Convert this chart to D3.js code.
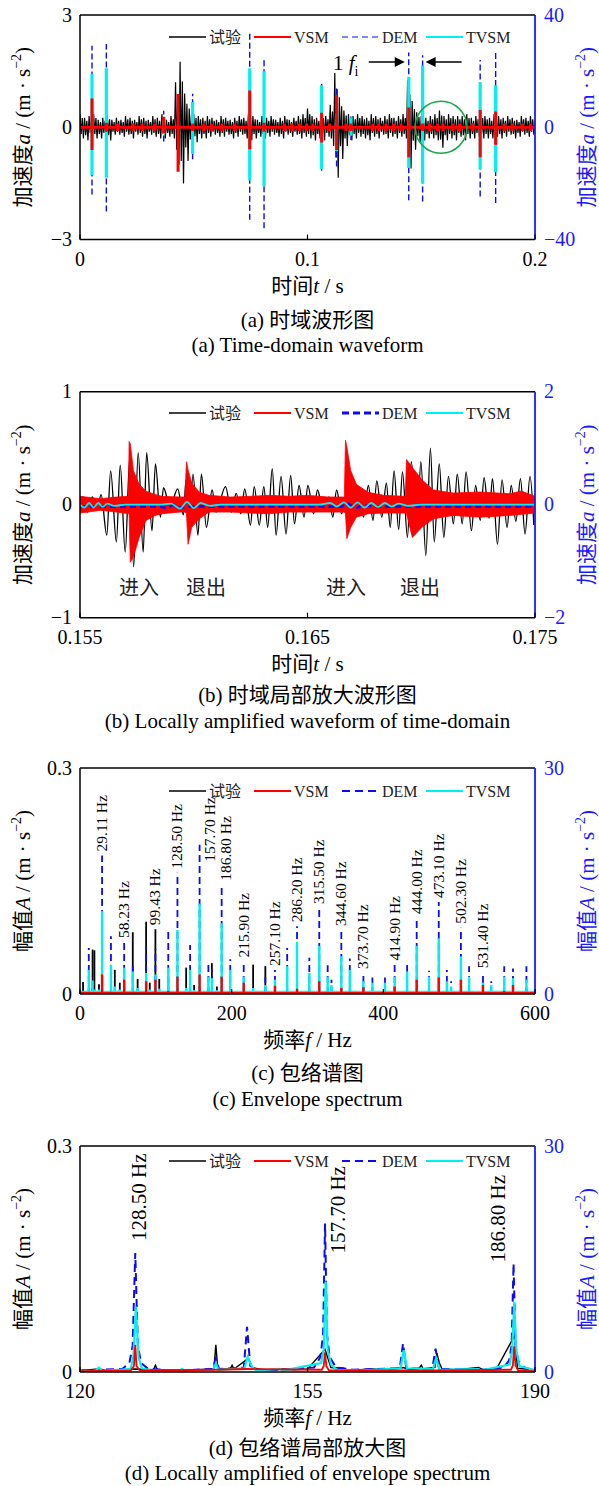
<!DOCTYPE html>
<html><head><meta charset="utf-8">
<script src="https://cdn.jsdelivr.net/npm/d3@7"></script>
<style>
body{margin:0;background:#fff;}
svg{display:block;}
text{font-family:"Liberation Serif","Times New Roman","Noto Sans CJK SC",serif;}
</style></head><body>
<svg id="c" width="599" height="1486"></svg>
<script>
// ================= DATA =================
// ---- Panel (a): time-domain waveform ----
const aXTicks = [0, 0.1, 0.2];
const aLTicks = [-3, 0, 3];
const aRTicks = [-40, 0, 40];
const aExpStep = 0.002; // sampling of the envelope
const aExpHi = [0.35,0.25,0.3,0.35,0.2,0.25,0.3,0.2,0.25,0.2,0.3,0.25,0.2,0.3,0.25,0.2,0.3,0.25,0.35,0.2,
  0.3,1.2,1.75,0.9,0.5,0.35,0.3,0.25,0.3,0.25,0.2,0.3,0.25,0.2,0.25,0.3,0.25,0.35,0.3,0.2,
  0.3,0.25,0.3,0.2,0.25,0.3,0.2,0.25,0.3,0.35,0.5,0.3,0.25,0.35,0.3,0.6,1.45,0.8,0.45,0.35,
  0.3,0.35,0.3,0.25,0.35,0.3,0.25,0.3,0.35,0.25,0.3,0.35,1.25,0.7,0.4,0.3,0.25,0.3,0.35,0.45,
  0.3,0.35,0.3,0.3,0.3,0.35,0.25,0.3,0.35,0.3,0.25,0.35,0.3,0.25,0.3,0.25,0.2,0.3,0.25,0.3,0.2];
const aExpLo = [-0.3,-0.35,-0.25,-0.3,-0.3,-0.25,-0.35,-0.2,-0.2,-0.25,-0.2,-0.3,-0.2,-0.25,-0.3,-0.2,-0.25,-0.3,-0.3,-0.25,
  -0.3,-1.0,-1.5,-0.9,-0.55,-0.4,-0.3,-0.3,-0.25,-0.2,-0.25,-0.25,-0.2,-0.3,-0.25,-0.2,-0.3,-0.35,-0.3,-0.25,
  -0.3,-0.25,-0.2,-0.25,-0.3,-0.2,-0.25,-0.2,-0.3,-0.25,-0.3,-0.35,-0.3,-0.35,-0.25,-0.5,-1.35,-0.85,-0.5,-0.35,
  -0.3,-0.25,-0.3,-0.35,-0.25,-0.3,-0.2,-0.3,-0.25,-0.3,-0.25,-0.3,-1.1,-0.6,-0.4,-0.35,-0.3,-0.3,-0.35,-0.55,
  -0.35,-0.3,-0.35,-0.25,-0.35,-0.3,-0.3,-0.25,-0.3,-0.3,-0.3,-0.25,-0.3,-0.25,-0.2,-0.3,-0.25,-0.2,-0.25,-0.2,-0.2];
const aImpT   = [0.00527,0.01158,0.0368,0.0431,0.0495,0.0746,0.0809,0.1062,0.1128,0.1191,0.1445,0.1506,0.1759,0.1827];
const aDemHi  = [29, 29.7, 5.9, 1.5, 11.9, 33.5, 24, 16, 14, 3.8, 26.6, 25.7, 24, 27];
const aDemLo  = [-24, -30, -5.1, -1.5, -11.4, -33, -36, -15.5, -14, -4.5, -26, -26.5, -24.7, -27];
const aTvsmHi = [19, 21, 2.8, 0.5, 9, 21, 20, 15, 5, 3.5, 18, 22, 16, 15];
const aTvsmLo = [-17, -18, -2.5, -0.5, -9.5, -19, -21, -15, -8.5, -3, -14.5, -20, -15, -16];
const aVsmT  = [0.00527,0.01158,0.0164,0.0233,0.0273,0.0328,0.0368,0.0431,0.0495,0.0545,0.058,0.0624,0.068,0.0746,0.0809,
  0.0898,0.0932,0.0964,0.0996,0.1023,0.1062,0.1096,0.1128,0.1169,0.1191,0.1287,0.1313,0.1345,0.1379,0.1411,0.1445,0.1506,
  0.1536,0.1572,0.1595,0.1639,0.1668,0.1726,0.1759,0.1827,0.1865,0.190,0.1945,0.198];
const aVsmHi = [0.77,0.12,0.1,0.1,0.1,0.1,0.28,0.89,0.1,0.1,0.1,0.1,0.1,0.98,0.12,
  0.1,0.1,0.1,0.1,0.1,0.39,0.1,0.86,0.1,0.1,0.1,0.1,0.1,0.1,0.1,0.53,0.1,
  0.1,0.1,0.1,0.1,0.1,0.1,0.46,0.42,0.1,0.1,0.1,0.1];
const aVsmLo = [-0.61,-0.12,-0.1,-0.1,-0.1,-0.1,-0.16,-1.19,-0.1,-0.1,-0.1,-0.1,-0.1,-0.59,-0.12,
  -0.1,-0.1,-0.1,-0.1,-0.1,-0.41,-0.1,-0.61,-0.1,-0.1,-0.1,-0.1,-0.1,-0.1,-0.1,-0.8,-0.1,
  -0.1,-0.1,-0.1,-0.1,-0.1,-0.1,-0.8,-0.47,-0.1,-0.1,-0.1,-0.1];
const aCircleT = 0.1587;

// ---- Panel (b): locally amplified waveform ----
const bXTicks = [0.155, 0.165, 0.175];
const bLTicks = [-1, 0, 1];
const bRTicks = [-2, 0, 2];
const bExpT = [0.155,0.155135,0.155337,0.155539,0.155758,0.155926,0.156178,0.156347,0.156599,0.156768,0.156987,0.157189,0.157357,
  0.157559,0.157778,0.157929,0.158165,0.158316,0.158535,0.158670,0.158956,0.159293,0.159545,0.159663,0.159798,0.159966,
  0.160185,0.160337,0.160556,0.160808,0.160976,0.161397,0.161650,0.161869,0.162071,0.162239,0.162492,0.162660,0.162879,
  0.163081,0.163249,0.163451,0.163620,0.163838,0.164057,0.164259,0.164428,0.164630,0.164848,0.165017,0.165269,0.165438,
  0.165690,0.165943,0.166111,0.166279,0.166498,0.166700,0.166953,0.167290,0.167458,0.167677,0.167879,0.168047,0.168266,
  0.168468,0.168636,0.168805,0.169007,0.169175,0.169394,0.169562,0.169815,0.169983,0.170202,0.170404,0.170572,0.170791,
  0.170993,0.171195,0.171414,0.171582,0.171801,0.171970,0.172205,0.172391,0.172593,0.172761,0.172980,0.173131,0.173350,
  0.173552,0.173771,0.173956,0.174158,0.174360,0.174562,0.174781,0.174949];
const bExpV = [0,0.07,-0.065,0.07,-0.05,0.09,-0.27,0.30,-0.33,0.35,-0.42,0.42,-0.55,
  0.46,-0.42,0.46,-0.23,0.36,-0.11,0.15,-0.02,0.14,-0.09,0.22,-0.29,0.27,
  -0.27,0.27,-0.2,0.13,-0.065,0.16,-0.065,0.1,-0.08,0.14,-0.18,0.16,-0.18,
  0.16,-0.2,0.32,-0.27,0.25,-0.26,0.26,-0.17,0.17,-0.11,0.17,-0.08,0.13,
  -0.05,0.07,-0.11,0.13,-0.08,0.07,-0.11,0.1,-0.11,0.17,-0.14,0.21,-0.11,
  0.19,-0.2,0.3,-0.22,0.29,-0.29,0.38,-0.23,0.38,-0.45,0.5,-0.33,0.36,
  -0.29,0.25,-0.17,0.27,-0.17,0.29,-0.23,0.17,-0.14,0.24,-0.12,0.23,-0.35,
  0.22,-0.2,0.17,-0.15,0.23,-0.26,0.25,-0.18];
const bVsmT  = [0.155,0.1559,0.1566,0.15713,0.15716,0.15721,0.15735,0.1576,0.1579,0.1583,0.1586,0.1594,0.15961,0.15968,0.15975,
  0.15991,0.16025,0.16067,0.1616,0.1625,0.1633,0.1642,0.1650,0.1659,0.16662,0.16667,0.16673,0.16690,0.16715,0.16766,0.16835,
  0.16926,0.16930,0.16935,0.16961,0.17003,0.17054,0.1714,0.1726,0.1739,0.1744,0.1750];
const bVsmHi = [0.074,0.053,0.068,0.074,0.56,0.54,0.30,0.18,0.12,0.09,0.074,0.068,0.068,0.38,0.31,
  0.19,0.11,0.083,0.068,0.074,0.083,0.074,0.083,0.068,0.068,0.57,0.51,0.30,0.18,0.11,0.083,
  0.074,0.074,0.40,0.33,0.22,0.13,0.103,0.112,0.097,0.121,0.074];
const bVsmLo = [-0.074,-0.05,-0.065,-0.08,-0.08,-0.51,-0.46,-0.29,-0.14,-0.095,-0.08,-0.065,-0.065,-0.08,-0.35,
  -0.20,-0.125,-0.065,-0.065,-0.074,-0.08,-0.065,-0.065,-0.065,-0.065,-0.08,-0.30,-0.20,-0.11,-0.08,-0.074,
  -0.074,-0.074,-0.08,-0.29,-0.2,-0.125,-0.095,-0.11,-0.095,-0.085,-0.074];
const bDemT = [0.155,0.1585,0.1588,0.1591,0.1594,0.1600,0.1665,0.1668,0.1671,0.1674,0.1680,0.175];
const bDemV = [-0.03,-0.03,-0.06,0.0,-0.05,-0.03,-0.03,0.02,-0.07,-0.01,-0.03,-0.03];
const bTvsmT = [0.155,0.1552,0.1554,0.1556,0.1558,0.1560,0.1562,0.1565,0.1570,0.1585,0.1590,0.1594,0.1597,0.1600,0.1603,0.1607,0.1612,
  0.1655,0.1660,0.1663,0.1666,0.1669,0.1672,0.1675,0.1678,0.1681,0.1684,0.1687,0.1690,0.1694,0.1700,0.175];
const bTvsmV = [0,-0.05,0.03,-0.05,0.03,-0.04,0.02,-0.02,0,0,0.02,-0.07,0.05,-0.06,0.03,-0.02,0,
  0,0.03,-0.03,0.04,-0.05,0.04,-0.05,0.03,-0.04,0.03,-0.03,0.02,-0.02,0,0];
const bNotes = ["进入","退出","进入","退出"];
const bNoteT = [0.15759, 0.16054, 0.16669, 0.16995];
const bNoteV = -0.74;

// ---- Panel (c): envelope spectrum ----
const cXTicks = [0, 200, 400, 600];
const cLTicks = [0, 0.3];
const cRTicks = [0, 30];
const cFreq = [4,11.6,16.6,19.0,25.0,29.11,40.8,45.9,52.5,58.23,69.6,76.0,87.2,92.0,99.43,104.5,116.4,128.5,140.0,145.2,
  150.5,157.7,169.3,173.9,180.5,186.8,198.1,215.9,228.3,244.4,257.1,273.2,286.2,302.4,315.5,326.6,331.6,344.6,355.8,
  373.7,385.6,402.2,414.9,431.4,444.0,460.2,473.1,483.8,489.4,502.3,513.1,531.4,542.3,559.4,571.0,588.7];
const cDem = [0.3,6.1,0.8,0.5,0.5,18.4,7.65,0.8,0.5,6.9,3.7,0.6,6.3,0.5,6.0,0.6,8.3,16.1,0.6,6.5,
  0.5,19.8,4.0,3.3,0.5,14.5,4.6,4.3,1.2,2.3,3.2,6.1,9.0,4.8,11.4,3.8,1.9,8.5,4.7,
  2.8,2.2,2.2,3.9,4.2,10.1,3.1,12.2,3.2,1.7,8.8,3.7,2.9,1.7,3.7,3.4,3.7];
const cTvsm = [0.3,3.2,1.8,0.6,0.6,11,3.9,1.0,0.6,3.5,3.0,0.8,2.8,0.6,2.6,0.7,3.5,8.5,0.8,3.2,
  0.5,12,2.3,2.1,0.5,9.4,3.2,2.3,0.8,1.2,1.9,3.7,6.9,2.8,6.4,2.3,1.2,5.0,3.2,
  1.7,1.5,1.5,2.3,3.0,6.4,2.3,7.4,1.7,1.0,5.0,2.3,1.5,1.2,2.3,2.1,1.9];
const cVsm = [0.003,0.003,0.002,0.002,0.002,0.026,0.003,0.002,0.002,0.019,0.003,0.002,0.017,0.002,0.019,0.002,0.004,0.023,0.002,0.003,
  0.002,0.026,0.003,0.003,0.002,0.023,0.003,0.015,0.002,0.003,0.011,0.003,0.007,0.003,0.017,0.003,0.002,0.008,0.003,
  0.009,0.002,0.003,0.010,0.003,0.019,0.003,0.022,0.003,0.002,0.019,0.003,0.012,0.002,0.004,0.012,0.003];
const cExp = [0.016,0.008,0.059,0.058,0.013,0.006,0.005,0.032,0.015,0.008,0.082,0.02,0.096,0.015,0.086,0.02,0.02,0.006,0.035,0.01,
  0.012,0.01,0.006,0.041,0.01,0.008,0.006,0.005,0.039,0.037,0.005,0.004,0.004,0.004,0.003,0.003,0.003,0.003,0.003,
  0.003,0.003,0.003,0.003,0.003,0.003,0.003,0.003,0.003,0.003,0.003,0.003,0.003,0.003,0.003,0.003,0.006];
const cLabelF = [29.11,58.23,99.43,128.50,157.70,186.80,215.90,257.10,286.20,315.50,344.60,373.70,414.90,444.00,473.10,502.30,531.40];

// ---- Panel (d): locally amplified envelope spectrum ----
const dXTicks = [120, 155, 190];
const dLTicks = [0, 0.3];
const dRTicks = [0, 30];
const dDem = [[120,0.2],[122.9,0.3],[126.5,0.4],[127.6,1.2],[128.1,3.5],[128.5,15.8],[128.9,3.5],[129.4,1.2],[130.5,0.4],[135,0.2],
  [140.4,0.4],[140.9,1.8],[141.4,0.4],[145.2,0.6],[145.7,6.0],[146.2,0.8],[147,0.3],[151,0.3],[156.0,0.6],[157.0,2],
  [157.4,5],[157.7,19.7],[158.0,5],[158.4,2],[159.4,0.6],[162,0.3],[169.2,0.5],[169.7,3.8],[170.2,0.5],[174.2,0.4],
  [174.7,3.1],[175.2,0.4],[182,0.3],[185.2,0.6],[186.0,1.5],[186.4,3.5],[186.7,14.4],[187.0,3.5],[187.4,1.5],[188.5,0.5],[190,0.3]];
const dTvsm = [[120,0.15],[122.4,0.15],[122.9,0.6],[123.4,0.15],[127.8,0.4],[128.2,2],[128.6,8.7],[129.0,2],[129.5,0.5],[131,0.2],
  [135.4,0.2],[135.7,0.4],[136,0.2],[140.5,0.3],[140.9,1.15],[141.3,0.3],[145.3,0.5],[145.8,2.0],[146.5,0.6],[147.2,0.2],
  [150.8,0.4],[151.2,0.2],[157.1,1.2],[157.5,3],[157.8,12],[158.1,3],[158.6,1],[159.5,0.3],[163,0.2],[169.3,0.5],
  [169.8,2.9],[170.3,0.5],[174.3,0.4],[174.8,1.8],[175.3,0.3],[181.3,0.4],[181.6,0.2],[186.1,1],[186.5,3],[186.8,9.3],
  [187.1,3],[187.6,0.8],[190,0.2]];
const dVsm = [[120,0.001],[127.8,0.002],[128.3,0.008],[128.5,0.036],[128.7,0.008],[129.2,0.002],[140.9,0.003],[145.7,0.004],
  [157.2,0.003],[157.5,0.008],[157.7,0.026],[157.9,0.008],[158.3,0.002],[169.7,0.002],[174.7,0.002],[186.3,0.003],
  [186.6,0.009],[186.8,0.034],[187.0,0.009],[187.4,0.002],[190,0.001]];
const dExp = [[120,0.002],[121.5,0.003],[123,0.004],[124,0.002],[126,0.003],[128.5,0.004],[131.3,0.003],[131.6,0.009],[131.9,0.003],
  [134,0.003],[136,0.002],[138,0.003],[140.6,0.004],[140.9,0.036],[141.2,0.004],[143.1,0.004],[143.4,0.009],[143.7,0.004],
  [145.9,0.018],[146.5,0.006],[148,0.003],[150,0.003],[151,0.004],[153,0.003],[155,0.004],[157.7,0.03],[158.6,0.006],
  [160.5,0.005],[161,0.003],[163,0.003],[165,0.004],[167,0.003],[169.7,0.006],[171,0.003],[172.2,0.005],[172.5,0.009],
  [172.8,0.004],[174.6,0.006],[174.9,0.025],[175.3,0.012],[175.7,0.004],[178,0.003],[181.3,0.006],[182,0.003],[184,0.003],
  [186.9,0.049],[187.3,0.005],[190,0.003]];
const dLabelF = [128.50, 157.70, 186.80];

// ================= DRAWING =================
const svg = d3.select("#c");
const X0 = 80, X1 = 535;
const BLUE = "#0a0af5", RBLUE = "#1a1aff", RED = "#ff0000", CYAN = "#00f0f0", BLACK = "#000";
const TICKF = 20, TITLEF = 21, CAPF = 21, LEGF = 16;

function rich(sel, parts, size){
  let shift = 0;
  parts.forEach(p => {
    const ts = sel.append("tspan").text(p.t);
    let target = 0, fs = size;
    if (p.sup) { target = -0.42*size; fs = size*0.66; }
    if (p.sub) { target = 0.28*size; fs = size*0.66; }
    if (target - shift !== 0) ts.attr("dy", target - shift);
    shift = target;
    ts.attr("font-size", fs);
    if (p.it) ts.attr("font-style", "italic");
  });
}
const yTitleA = [{t:"加速度"},{t:"a",it:1},{t:" / (m · s"},{t:"−2",sup:1},{t:")"}];
const yTitleC = [{t:"幅值"},{t:"A",it:1},{t:" / (m · s"},{t:"−2",sup:1},{t:")"}];
const xTitleT = [{t:"时间"},{t:"t",it:1},{t:" / s"}];
const xTitleF = [{t:"频率"},{t:"f",it:1},{t:" / Hz"}];

function makePanel(p){
  const x = d3.scaleLinear().domain(p.xDomain).range([X0, X1]);
  const yL = d3.scaleLinear().domain(p.yL).range([p.bottom, p.top]);
  const yR = d3.scaleLinear().domain(p.yR).range([p.bottom, p.top]);
  const id = "clip" + p.id;
  svg.append("clipPath").attr("id", id).append("rect")
    .attr("x", X0).attr("y", p.top).attr("width", X1 - X0).attr("height", p.bottom - p.top);
  const plot = svg.append("g").attr("clip-path", `url(#${id})`);
  return {x, yL, yR, plot, p};
}

function finishPanel(P){
  const {x, yL, yR, p} = P;
  const g = svg.append("g");
  g.append("line").attr("x1",X0).attr("x2",X1).attr("y1",p.top).attr("y2",p.top).attr("stroke","#000").attr("stroke-width",1.5);
  g.append("line").attr("x1",X0).attr("x2",X1).attr("y1",p.bottom).attr("y2",p.bottom).attr("stroke","#000").attr("stroke-width",1.5);
  g.append("line").attr("x1",X0).attr("x2",X0).attr("y1",p.top).attr("y2",p.bottom).attr("stroke","#000").attr("stroke-width",1.5);
  g.append("line").attr("x1",X1).attr("x2",X1).attr("y1",p.top).attr("y2",p.bottom).attr("stroke",RBLUE).attr("stroke-width",1.8);
  p.xTicks.forEach(v => {
    g.append("line").attr("x1",x(v)).attr("x2",x(v)).attr("y1",p.bottom).attr("y2",p.bottom-5).attr("stroke","#000").attr("stroke-width",1.2);
    g.append("text").attr("x",x(v)).attr("y",p.bottom+26).attr("text-anchor","middle").attr("font-size",TICKF).text(p.xFmt(v));
  });
  p.lTicks.forEach(v => {
    g.append("text").attr("x",X0-8).attr("y",yL(v)).attr("dy","0.33em").attr("text-anchor","end").attr("font-size",TICKF).text(p.lFmt(v));
  });
  p.rTicks.forEach(v => {
    g.append("text").attr("x",X1+9).attr("y",yR(v)).attr("dy","0.33em").attr("text-anchor","start").attr("font-size",TICKF).attr("fill",RBLUE).text(p.rFmt(v));
  });
  const cy = (p.top + p.bottom)/2;
  rich(g.append("text").attr("transform",`translate(30,${cy}) rotate(-90)`).attr("text-anchor","middle").attr("font-size",TITLEF), p.yTitle, TITLEF);
  rich(g.append("text").attr("transform",`translate(594,${cy}) rotate(-90)`).attr("text-anchor","middle").attr("font-size",TITLEF).attr("fill",RBLUE), p.yTitle, TITLEF);
  rich(g.append("text").attr("x",(X0+X1)/2).attr("y",p.bottom+53).attr("text-anchor","middle").attr("font-size",TITLEF), p.xTitle, TITLEF);
  g.append("text").attr("x",(X0+X1)/2).attr("y",p.cap1Y).attr("text-anchor","middle").attr("font-size",CAPF).text(p.cap1);
  g.append("text").attr("x",(X0+X1)/2).attr("y",p.cap2Y).attr("text-anchor","middle").attr("font-size",CAPF).text(p.cap2);
  const ly = p.legendY;
  const items = [
    {name:"试验", c:BLACK, w:1.4, dash:null, x:169},
    {name:"VSM", c:RED, w:2, dash:null, x:254},
    {name:"DEM", c:BLUE, w:p.demW, dash:p.demDash, x:342},
    {name:"TVSM", c:CYAN, w:2, dash:null, x:426}
  ];
  items.forEach(it => {
    const l = g.append("line").attr("x1",it.x).attr("x2",it.x+37).attr("y1",ly).attr("y2",ly).attr("stroke",it.c).attr("stroke-width",it.w);
    if (it.dash) l.attr("stroke-dasharray", it.dash);
    g.append("text").attr("x",it.x+40).attr("y",ly+6).attr("font-size",LEGF).attr("fill","#222").text(it.name);
  });
  return g;
}

const fmtPlain = v => (v < 0 ? "−" : "") + Math.abs(v);

// ---------- Panel (a) ----------
{
  const P = makePanel({id:"a", xDomain:[0,0.2], yL:[-3,3], yR:[-40,40], top:15, bottom:239.5});
  const {x, yL, yR, plot} = P;
  const pts = [];
  aExpHi.forEach((h,i) => {
    const t = i*aExpStep, lo = aExpLo[i];
    pts.push([t, h]); pts.push([t + aExpStep*0.25, lo*0.6]);
    pts.push([t + aExpStep*0.5, h*0.7]); pts.push([t + aExpStep*0.75, lo]);
  });
  plot.append("path").attr("d", d3.line().x(d=>x(d[0])).y(d=>yL(d[1]))(pts))
    .attr("fill","none").attr("stroke",BLACK).attr("stroke-width",1.2);
  plot.selectAll(".dem").data(aImpT).join("line")
    .attr("x1",d=>x(d)).attr("x2",d=>x(d)).attr("y1",(d,i)=>yR(aDemLo[i])).attr("y2",(d,i)=>yR(aDemHi[i]))
    .attr("stroke",BLUE).attr("stroke-width",1.4).attr("stroke-dasharray","6,3");
  plot.selectAll(".tv").data(aImpT).join("line")
    .attr("x1",d=>x(d)).attr("x2",d=>x(d)).attr("y1",(d,i)=>yR(aTvsmLo[i])).attr("y2",(d,i)=>yR(aTvsmHi[i]))
    .attr("stroke",CYAN).attr("stroke-width",3.2);
  plot.append("line").attr("x1",x(0)).attr("x2",x(0.2)).attr("y1",yL(0)).attr("y2",yL(0)).attr("stroke",RED).attr("stroke-width",3);
  plot.selectAll(".vsm").data(aVsmT).join("line")
    .attr("x1",d=>x(d)).attr("x2",d=>x(d)).attr("y1",(d,i)=>yL(aVsmLo[i])).attr("y2",(d,i)=>yL(aVsmHi[i]))
    .attr("stroke",RED).attr("stroke-width",3);
  plot.append("circle").attr("cx",x(aCircleT)).attr("cy",yL(0)).attr("r",26).attr("fill","none").attr("stroke","#1aa64e").attr("stroke-width",1.5);
  const g = finishPanel({...P, p:{...P.p, xTicks:aXTicks, lTicks:aLTicks, rTicks:aRTicks,
    xFmt:d3.format("~g"), lFmt:fmtPlain, rFmt:fmtPlain, yTitle:yTitleA, xTitle:xTitleT,
    cap1:"(a) 时域波形图", cap2:"(a) Time-domain waveform", cap1Y:327, cap2Y:352, legendY:37, demW:1.2, demDash:"6,4",
    top:15, bottom:239.5}});
  const t1 = g.append("text").attr("x",333).attr("y",70).attr("font-size",21);
  rich(t1, [{t:"1 "},{t:"f",it:1},{t:"i",sub:1}], 21);
  const ay = 62;
  const h1 = x(aImpT[10]) - 4, h2 = x(aImpT[11]) + 3;
  g.append("line").attr("x1",h1-36).attr("x2",h1-8).attr("y1",ay).attr("y2",ay).attr("stroke","#000").attr("stroke-width",1.5);
  g.append("path").attr("d",`M${h1},${ay}L${h1-10},${ay-5}L${h1-10},${ay+5}Z`).attr("fill","#000");
  g.append("line").attr("x1",h2+36).attr("x2",h2+8).attr("y1",ay).attr("y2",ay).attr("stroke","#000").attr("stroke-width",1.5);
  g.append("path").attr("d",`M${h2},${ay}L${h2+10},${ay-5}L${h2+10},${ay+5}Z`).attr("fill","#000");
}

// ---------- Panel (b) ----------
{
  const P = makePanel({id:"b", xDomain:[0.155,0.175], yL:[-1,1], yR:[-2,2], top:391.7, bottom:617.7});
  const {x, yL, yR, plot} = P;
  plot.append("path").attr("d", d3.line().curve(d3.curveMonotoneX).x((d,i)=>x(bExpT[i])).y(d=>yL(d))(bExpV))
    .attr("fill","none").attr("stroke",BLACK).attr("stroke-width",1.3);
  plot.append("path").attr("d", d3.area().x((d,i)=>x(bVsmT[i])).y0((d,i)=>yL(bVsmLo[i])).y1(d=>yL(d))(bVsmHi))
    .attr("fill",RED).attr("stroke",RED).attr("stroke-width",0.8);
  plot.append("path").attr("d", d3.line().x((d,i)=>x(bDemT[i])).y(d=>yR(d))(bDemV))
    .attr("fill","none").attr("stroke",BLUE).attr("stroke-width",2.5).attr("stroke-dasharray","6,4");
  plot.append("path").attr("d", d3.line().curve(d3.curveMonotoneX).x((d,i)=>x(bTvsmT[i])).y(d=>yR(d))(bTvsmV))
    .attr("fill","none").attr("stroke",CYAN).attr("stroke-width",1.8);
  const g = finishPanel({...P, p:{...P.p, xTicks:bXTicks, lTicks:bLTicks, rTicks:bRTicks,
    xFmt:d3.format(".3f"), lFmt:fmtPlain, rFmt:fmtPlain, yTitle:yTitleA, xTitle:xTitleT,
    cap1:"(b) 时域局部放大波形图", cap2:"(b) Locally amplified waveform of time-domain", cap1Y:702, cap2Y:728,
    legendY:413, demW:3, demDash:"7,4", top:391.7, bottom:617.7}});
  bNotes.forEach((s,i) => g.append("text").attr("x",x(bNoteT[i])).attr("y",yL(bNoteV)).attr("dy","0.35em")
    .attr("text-anchor","middle").attr("font-size",20).attr("fill","#222").text(s));
}

// ---------- Panel (c) ----------
{
  const P = makePanel({id:"c", xDomain:[0,600], yL:[0,0.3], yR:[0,30], top:768, bottom:994});
  const {x, yL, yR, plot} = P;
  plot.append("line").attr("x1",x(0)).attr("x2",x(600)).attr("y1",yL(0.002)).attr("y2",yL(0.002)).attr("stroke",BLACK).attr("stroke-width",1.5);
  plot.selectAll(".e").data(cFreq).join("line").attr("x1",d=>x(d)).attr("x2",d=>x(d))
    .attr("y1",yL(0)).attr("y2",(d,i)=>yL(cExp[i])).attr("stroke",BLACK).attr("stroke-width",1.8);
  plot.selectAll(".d").data(cFreq).join("line").attr("x1",d=>x(d)).attr("x2",d=>x(d))
    .attr("y1",yR(0)).attr("y2",(d,i)=>yR(cDem[i])).attr("stroke",BLUE).attr("stroke-width",1.8).attr("stroke-dasharray","7,4");
  plot.append("line").attr("x1",x(0)).attr("x2",x(600)).attr("y1",yR(0.3)).attr("y2",yR(0.3)).attr("stroke",CYAN).attr("stroke-width",2);
  plot.selectAll(".t").data(cFreq).join("line").attr("x1",d=>x(d)).attr("x2",d=>x(d))
    .attr("y1",yR(0)).attr("y2",(d,i)=>yR(cTvsm[i])).attr("stroke",CYAN).attr("stroke-width",2.4);
  plot.append("line").attr("x1",x(0)).attr("x2",x(600)).attr("y1",yL(0.001)).attr("y2",yL(0.001)).attr("stroke",RED).attr("stroke-width",2.5);
  plot.selectAll(".v").data(cFreq).join("line").attr("x1",d=>x(d)).attr("x2",d=>x(d))
    .attr("y1",yL(0)).attr("y2",(d,i)=>yL(cVsm[i])).attr("stroke",RED).attr("stroke-width",2.4);
  const g = finishPanel({...P, p:{...P.p, xTicks:cXTicks, lTicks:cLTicks, rTicks:cRTicks,
    xFmt:d3.format("d"), lFmt:d3.format("~g"), rFmt:d3.format("d"), yTitle:yTitleC, xTitle:xTitleF,
    cap1:"(c) 包络谱图", cap2:"(c) Envelope spectrum", cap1Y:1080, cap2Y:1106, legendY:791, demW:1.8, demDash:"8,5",
    top:768, bottom:994}});
  const off = {157.7:[15,21], 186.8:[9,0]};
  cLabelF.forEach(f => {
    const i = cFreq.indexOf(f);
    const top = Math.max(cDem[i], cExp[i]*100);
    const o = off[f] || [5,0];
    g.append("text").attr("transform",`translate(${x(f)+o[0]},${yR(top)-4+o[1]}) rotate(-90)`)
      .attr("font-size",15.5).text(f.toFixed(2)+" Hz");
  });
}

// ---------- Panel (d) ----------
{
  const P = makePanel({id:"d", xDomain:[120,190], yL:[0,0.3], yR:[0,30], top:1146, bottom:1372});
  const {x, yL, yR, plot} = P;
  plot.append("path").attr("d", d3.line().x(d=>x(d[0])).y(d=>yL(d[1]))(dExp)).attr("fill","none").attr("stroke",BLACK).attr("stroke-width",1.4);
  plot.append("path").attr("d", d3.line().x(d=>x(d[0])).y(d=>yR(d[1]))(dDem)).attr("fill","none").attr("stroke",BLUE).attr("stroke-width",2).attr("stroke-dasharray","8,5");
  plot.append("path").attr("d", d3.line().x(d=>x(d[0])).y(d=>yR(d[1]))(dTvsm)).attr("fill","none").attr("stroke",CYAN).attr("stroke-width",2.2);
  plot.append("path").attr("d", d3.line().x(d=>x(d[0])).y(d=>yL(d[1]))(dVsm)).attr("fill","none").attr("stroke",RED).attr("stroke-width",1.8);
  const g = finishPanel({...P, p:{...P.p, xTicks:dXTicks, lTicks:dLTicks, rTicks:dRTicks,
    xFmt:d3.format("d"), lFmt:d3.format("~g"), rFmt:d3.format("d"), yTitle:yTitleC, xTitle:xTitleF,
    cap1:"(d) 包络谱局部放大图", cap2:"(d) Locally amplified of envelope spectrum", cap1Y:1455, cap2Y:1480,
    legendY:1161, demW:1.8, demDash:"8,5", top:1146, bottom:1372}});
  const off = [[11,-8],[20,34],[-9,3]];
  dLabelF.forEach((f,k) => {
    const pk = d3.max(dDem.filter(d => Math.abs(d[0]-f) < 0.5), d => d[1]);
    g.append("text").attr("transform",`translate(${x(f)+off[k][0]},${yR(pk)-4+off[k][1]}) rotate(-90)`)
      .attr("font-size",21).text(f.toFixed(2)+" Hz");
  });
}
</script>
</body></html>
